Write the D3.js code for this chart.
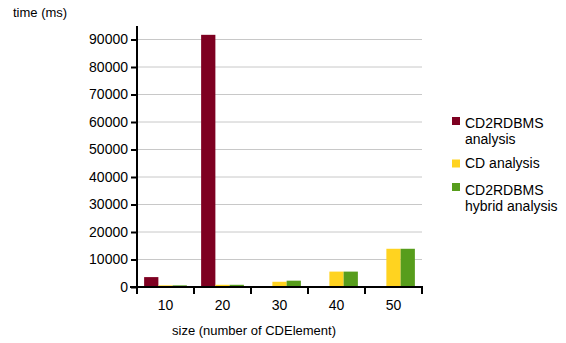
<!DOCTYPE html>
<html><head><meta charset="utf-8">
<script src="https://cdn.jsdelivr.net/npm/d3@7"></script>
<style>body{margin:0;background:#fff}svg{display:block;font-family:"Liberation Sans",Arial,sans-serif}</style>
</head><body><svg id="c" width="566" height="343"></svg>
<script>
const categories = ["10","20","30","40","50"];
const seriesNames = ["CD2RDBMS analysis","CD analysis","CD2RDBMS hybrid analysis"];
const cd2rdbms = [3600, 91700, 0, 0, 0];
const cdAnalysis = [600, 800, 1900, 5600, 13900];
const hybrid = [600, 800, 2300, 5600, 13900];
const yTicks = [0,10000,20000,30000,40000,50000,60000,70000,80000,90000];
const colors = ["#7e0021","#ffd320","#579d1c"];
const series = [cd2rdbms, cdAnalysis, hybrid];

const svg = d3.select("#c");
const x0 = 137, x1 = 422, yTop = 26;
const x = d3.scaleBand().domain(categories).range([x0, x1]).paddingInner(0).paddingOuter(0);
const y = d3.scaleLinear().domain([0, 90000]).range([287, 39.5]);
const xs = d3.scaleBand().domain(d3.range(3)).range([0, x.bandwidth()]).paddingOuter(0.5).paddingInner(0);

// gridlines
svg.append("g").selectAll("line").data(yTicks.filter(d=>d>0)).join("line")
  .attr("x1", x0).attr("x2", x1).attr("y1", d=>y(d)).attr("y2", d=>y(d))
  .attr("stroke", "#c8c8c8").attr("stroke-width", 1);

// bars
series.forEach((vals, si) => {
  svg.append("g").selectAll("rect").data(vals).join("rect")
    .attr("x", (d,i)=>x(categories[i]) + xs(si))
    .attr("width", xs.bandwidth())
    .attr("y", d=>y(d))
    .attr("height", d=>y(0)-y(d))
    .attr("fill", colors[si]);
});

// y axis
const yAxis = d3.axisLeft(y).tickValues(yTicks).tickSize(7).tickPadding(2).tickFormat(d3.format("d"));
const gy = svg.append("g").attr("transform", `translate(${x0},0)`).call(yAxis);
gy.select(".domain").remove();
gy.selectAll(".tick line").attr("stroke","#000").attr("stroke-width",2).attr("x2",-6).attr("x1",0);
gy.selectAll("text").attr("font-size", 14).attr("fill","#000").style("font-family","Liberation Sans, Arial, sans-serif");
svg.append("line").attr("x1", x0).attr("x2", x0).attr("y1", yTop).attr("y2", 294).attr("stroke","#000").attr("stroke-width",2);

// x axis
svg.append("line").attr("x1", x0-7).attr("x2", x1+1).attr("y1", 287).attr("y2", 287).attr("stroke","#000").attr("stroke-width",2);
const bounds = categories.map(c=>x(c)).concat([x1]);
svg.append("g").selectAll("line").data(bounds).join("line")
  .attr("x1", d=>d).attr("x2", d=>d).attr("y1", 287).attr("y2", 294)
  .attr("stroke","#000").attr("stroke-width",2);
svg.append("g").selectAll("text").data(categories).join("text")
  .attr("x", d=>x(d)+x.bandwidth()/2).attr("y", 310)
  .attr("text-anchor","middle").attr("font-size",14).attr("fill","#000").text(d=>d);

// titles
svg.append("text").attr("x", 13).attr("y", 17).attr("font-size", 13).text("time (ms)");
svg.append("text").attr("x", 254).attr("y", 335).attr("text-anchor","middle").attr("font-size", 13).text("size (number of CDElement)");

// legend
const legendRows = [
  {lines:["CD2RDBMS","analysis"], sq:117, base:128},
  {lines:["CD analysis"], sq:159.5, base:168},
  {lines:["CD2RDBMS","hybrid analysis"], sq:183, base:195}
];
legendRows.forEach((r, i) => {
  svg.append("rect").attr("x", 452).attr("y", r.sq).attr("width", 8).attr("height", 8).attr("fill", colors[i]);
  const t = svg.append("text").attr("x", 465).attr("y", r.base).attr("font-size", 14).attr("fill","#000");
  r.lines.forEach((ln, j) => t.append("tspan").attr("x", 465).attr("dy", j===0?0:15.5).text(ln));
});
</script></body></html>
